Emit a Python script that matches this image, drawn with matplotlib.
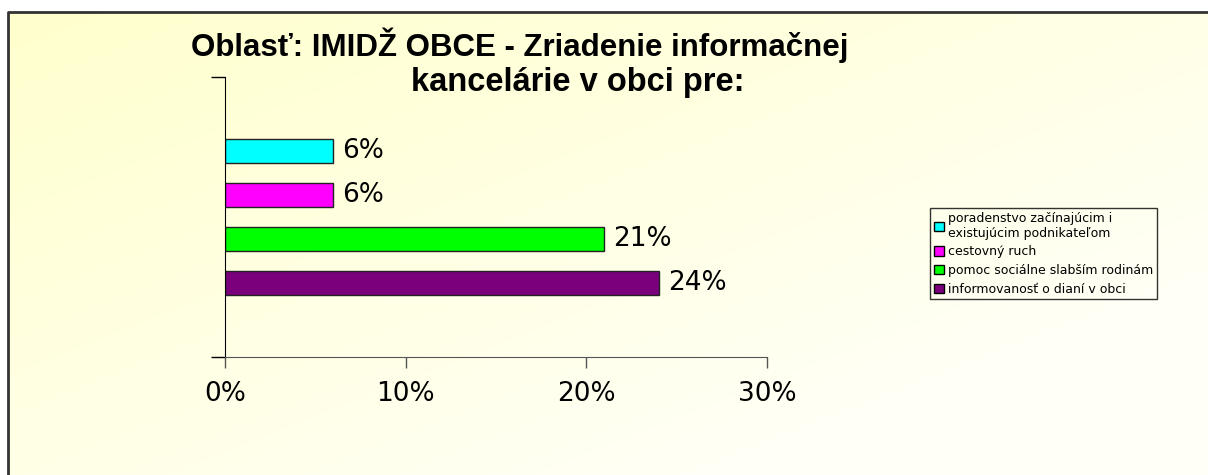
import numpy as np
import matplotlib.pyplot as plt
from matplotlib.patches import Patch

plt.rcParams['font.family'] = ['DejaVu Sans']

# data
labels = ["poradenstvo začínajúcim i\nexistujúcim podnikateľom",
          "cestovný ruch",
          "pomoc sociálne slabším rodinám",
          "informovanosť o dianí v obci"]
values = [6, 6, 21, 24]
colors = ["#00FFFF", "#FF00FF", "#00FF00", "#7B007B"]
xticks = [0, 10, 20, 30]

W, H = 1208, 475
fig = plt.figure(figsize=(W / 100, H / 100), dpi=100)

# background with gradient
bg = fig.add_axes([0, 0, 1, 1], zorder=-5)
bg.set_xlim(0, W)
bg.set_ylim(H, 0)
bg.axis('off')
yy, xx = np.mgrid[0:H, 0:W]
t = np.clip(xx / W * 0.6 + yy / H * 0.6, 0, 1)
c0 = np.array([255, 255, 204]) / 255
c1 = np.array([255, 255, 248]) / 255
img = c0[None, None, :] * (1 - t[..., None]) + c1[None, None, :] * t[..., None]
img[:12, :, :] = 1
img[:, :8, :] = 1
bg.imshow(img, extent=(0, W, H, 0), aspect='auto', interpolation='bilinear')
bg.plot([8, 8, W], [H, 12, 12], color='#333333', lw=2, solid_capstyle='butt')

# main axes
left, right, top, bottom = 225, 767, 77, 357
ax = fig.add_axes([left / W, 1 - bottom / H, (right - left) / W, (bottom - top) / H])
ax.patch.set_alpha(0)
pos = np.arange(len(values))
bars = ax.barh(pos, values, height=0.54, color=colors, edgecolor='#222222', linewidth=1)
ax.set_ylim(4.66, -1.66)
ax.set_xlim(0, 30)
ax.set_xticks(xticks)
ax.set_xticklabels([f"{v}%" for v in xticks], fontsize=19)
ax.set_yticks([-1.66, 4.66])
ax.set_yticklabels([])
ax.tick_params(axis='y', length=10, width=1, color='black')
ax.tick_params(axis='x', length=8, width=1, color='#555555', pad=9)
for s in ['top', 'right']:
    ax.spines[s].set_visible(False)
ax.spines['left'].set_color('black')
ax.spines['bottom'].set_color('#555555')

for b, v in zip(bars, values):
    ax.text(v + 0.5, b.get_y() + b.get_height() / 2, f"{v}%",
            va='center', ha='left', fontsize=19)

# title
fig.text(520 / W, 1 - 45 / H, "Oblasť: IMIDŽ OBCE - Zriadenie informačnej",
         ha='center', va='center', fontsize=22.5, fontweight='bold',
         family=['Liberation Sans', 'DejaVu Sans'])
fig.text(578 / W, 1 - 82 / H, "kancelárie v obci pre:",
         ha='center', va='center', fontsize=23.5, fontweight='bold',
         family=['Liberation Sans', 'DejaVu Sans'])

# legend
handles = [Patch(facecolor=c, edgecolor='black', linewidth=1) for c in colors]
leg = fig.legend(handles, labels, loc='upper left',
                 bbox_to_anchor=(930 / W, 1 - 208 / H), fontsize=9,
                 frameon=True, fancybox=False, edgecolor='black',
                 handlelength=0.8, handleheight=0.8, handletextpad=0.3,
                 labelspacing=0.45, borderpad=0.3, borderaxespad=0)
leg.get_frame().set_facecolor('none')
leg.get_frame().set_linewidth(1)

fig.savefig("out.png", dpi=100)
